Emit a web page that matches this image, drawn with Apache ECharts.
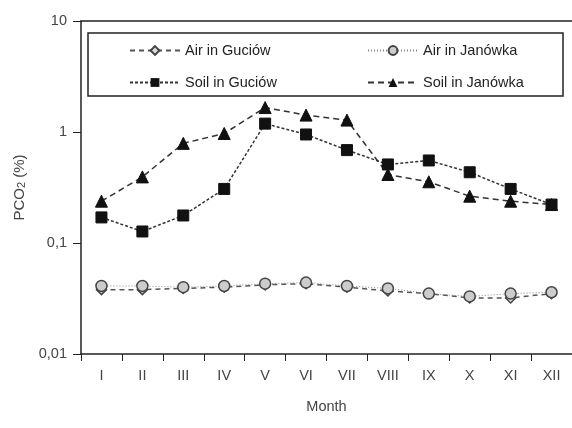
<!DOCTYPE html>
<html><head><meta charset="utf-8">
<script src="https://cdn.jsdelivr.net/npm/echarts@6/dist/echarts.min.js"></script>
<style>html,body{margin:0;padding:0;background:#fff}#c{width:572px;height:428px}</style>
</head><body><div id="c"></div>
<script>
var months = ['I','II','III','IV','V','VI','VII','VIII','IX','X','XI','XII'];
var airGuciow = [0.038,0.038,0.039,0.040,0.042,0.043,0.040,0.037,0.035,0.032,0.032,0.035];
var airJanowka = [0.041,0.041,0.040,0.041,0.043,0.044,0.041,0.039,0.035,0.033,0.035,0.036];
var soilGuciow = [0.170,0.127,0.177,0.307,1.19,0.95,0.687,0.51,0.554,0.434,0.307,0.222];
var soilJanowka = [0.238,0.394,0.79,0.97,1.66,1.42,1.28,0.414,0.356,0.264,0.238,0.222];
var yTicks = {'10':'10','1':'1','0.1':'0,1','0.01':'0,01'};

var font = 'Liberation Sans, Arial, sans-serif';
var chart = echarts.init(document.getElementById('c'));
function legend(name, left, top) {
  return {data:[name], left:left, top:top, padding:0, itemWidth:50, itemHeight:11, itemGap:5,
    textStyle:{fontFamily:font, fontSize:14.5, color:'#222'}, selectedMode:false};
}
chart.setOption({
  animation:false,
  backgroundColor:'#fff',
  graphic:[{type:'rect', shape:{x:88, y:33, width:475, height:63}, style:{fill:'#fff', stroke:'#222', lineWidth:1.5}, z:0}],
  legend:[legend('Air in Guciów',129,43), legend('Air in Janówka',367,43), legend('Soil in Guciów',129,75), legend('Soil in Janówka',367,75)],
  grid:{left:81, top:21, right:-2, bottom:74, show:false},
  xAxis:[{type:'category', data:months, boundaryGap:true,
    axisLine:{lineStyle:{color:'#222', width:1.5}},
    axisTick:{show:true, length:7, inside:false, lineStyle:{color:'#222'}},
    axisLabel:{fontFamily:font, fontSize:14.5, color:'#444', margin:14},
    name:'Month', nameLocation:'middle', nameGap:45, nameTextStyle:{fontFamily:font, fontSize:14.5, color:'#444'}},
    {type:'category', data:months, position:'top', boundaryGap:true,
    axisLine:{show:true, lineStyle:{color:'#222', width:1.5}}, axisTick:{show:false}, axisLabel:{show:false}}],
  yAxis:{type:'log', logBase:10, min:0.01, max:10,
    axisLine:{show:true, lineStyle:{color:'#222', width:1.5}},
    axisTick:{show:true, length:8, lineStyle:{color:'#222'}},
    splitLine:{show:false}, minorTick:{show:false},
    axisLabel:{fontFamily:font, fontSize:14.5, color:'#444', margin:14,
      formatter:function(v){var k=String(+v.toPrecision(3)); return yTicks[k]!==undefined?yTicks[k]:'';}},
    name:'PCO{sub|2} (%)', nameLocation:'middle', nameGap:52, nameRotate:90,
    nameTextStyle:{fontFamily:font, fontSize:15, color:'#444',
      rich:{sub:{fontFamily:font, fontSize:11, color:'#444', verticalAlign:'bottom', padding:[6,0,0,0]}}}},
  series:[
    {name:'Air in Guciów', type:'line', data:airGuciow, symbol:'diamond', symbolSize:10,
      lineStyle:{color:'#555', width:1.5, type:[5,4]}, itemStyle:{color:'#ddd', borderColor:'#444', borderWidth:1.5}, z:3},
    {name:'Air in Janówka', type:'line', data:airJanowka, symbol:'circle', symbolSize:11,
      lineStyle:{color:'#888', width:1, type:[1,2]}, itemStyle:{color:'#ccc', borderColor:'#444', borderWidth:1.5}, z:4},
    {name:'Soil in Guciów', type:'line', data:soilGuciow, symbol:'rect', symbolSize:11,
      lineStyle:{color:'#333', width:1.5, type:[3,2]}, itemStyle:{color:'#111', borderColor:'#111'}, z:6},
    {name:'Soil in Janówka', type:'line', data:soilJanowka, symbol:'triangle', symbolSize:12,
      lineStyle:{color:'#333', width:1.5, type:[6,4]}, itemStyle:{color:'#111', borderColor:'#111'}, z:5}
  ]
});
</script></body></html>
